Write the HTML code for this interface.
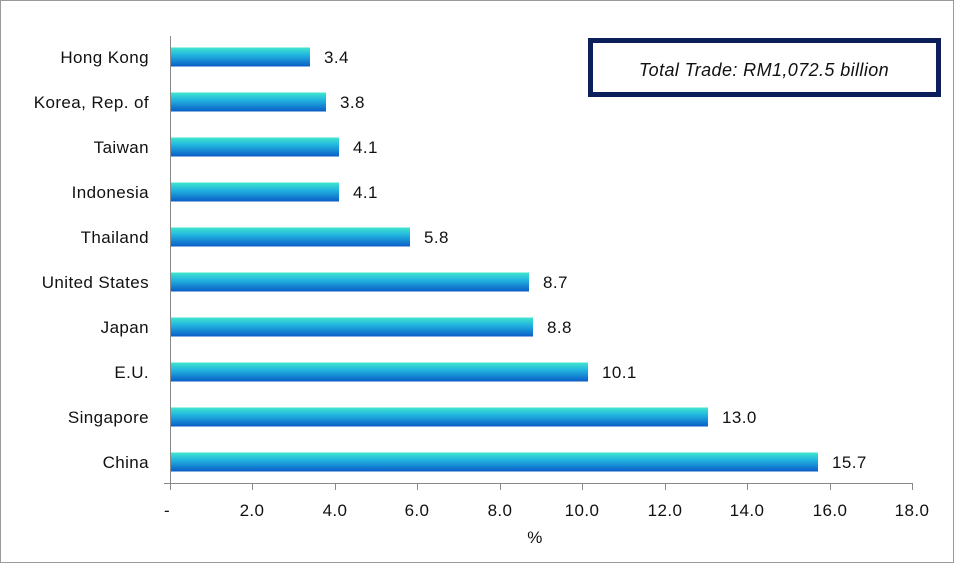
<!DOCTYPE html>
<html><head><style>
html,body{margin:0;padding:0;background:#fff;}
svg{display:block;font-family:"Liberation Sans",Arial,sans-serif;}
</style></head><body>
<svg width="960" height="564" viewBox="0 0 960 564" xmlns="http://www.w3.org/2000/svg">
<defs>
<linearGradient id="g" x1="0" y1="0" x2="0" y2="1">
<stop offset="0" stop-color="#3fe6cc"/>
<stop offset="0.4" stop-color="#22b4e0"/>
<stop offset="1" stop-color="#0a5cc6"/>
</linearGradient>
</defs>
<rect x="0.5" y="0.5" width="953" height="562" fill="#fff" stroke="#9a9a9a"/>
<rect x="590.5" y="40.5" width="348" height="54" fill="#fff" stroke="#0c1f5a" stroke-width="5"/>
<text x="764" y="76" font-size="18" font-style="italic" text-anchor="middle" fill="#111" letter-spacing="0.4">Total Trade: RM1,072.5 billion</text>
<g font-size="17" fill="#111" letter-spacing="0.4">
<g text-anchor="end">
<text x="149" y="63">Hong Kong</text>
<text x="149" y="108">Korea, Rep. of</text>
<text x="149" y="153">Taiwan</text>
<text x="149" y="198">Indonesia</text>
<text x="149" y="243">Thailand</text>
<text x="149" y="288">United States</text>
<text x="149" y="333">Japan</text>
<text x="149" y="378">E.U.</text>
<text x="149" y="423">Singapore</text>
<text x="149" y="468">China</text>
</g>
<rect x="170" y="47.5" width="140" height="19" fill="url(#g)"/>
<rect x="170" y="92.5" width="156" height="19" fill="url(#g)"/>
<rect x="170" y="137.5" width="169" height="19" fill="url(#g)"/>
<rect x="170" y="182.5" width="169" height="19" fill="url(#g)"/>
<rect x="170" y="227.5" width="240" height="19" fill="url(#g)"/>
<rect x="170" y="272.5" width="359" height="19" fill="url(#g)"/>
<rect x="170" y="317.5" width="363" height="19" fill="url(#g)"/>
<rect x="170" y="362.5" width="418" height="19" fill="url(#g)"/>
<rect x="170" y="407.5" width="538" height="19" fill="url(#g)"/>
<rect x="170" y="452.5" width="648" height="19" fill="url(#g)"/>
<text x="324" y="63">3.4</text>
<text x="340" y="108">3.8</text>
<text x="353" y="153">4.1</text>
<text x="353" y="198">4.1</text>
<text x="424" y="243">5.8</text>
<text x="543" y="288">8.7</text>
<text x="547" y="333">8.8</text>
<text x="602" y="378">10.1</text>
<text x="722" y="423">13.0</text>
<text x="832" y="468">15.7</text>
</g>
<line x1="170.5" y1="36" x2="170.5" y2="484" stroke="#888"/>
<line x1="164" y1="483.5" x2="912" y2="483.5" stroke="#888"/>
<g stroke="#888">
<line x1="170.5" y1="483" x2="170.5" y2="490"/><line x1="252.5" y1="483" x2="252.5" y2="490"/>
<line x1="335.5" y1="483" x2="335.5" y2="490"/><line x1="417.5" y1="483" x2="417.5" y2="490"/>
<line x1="500.5" y1="483" x2="500.5" y2="490"/><line x1="582.5" y1="483" x2="582.5" y2="490"/>
<line x1="665.5" y1="483" x2="665.5" y2="490"/><line x1="747.5" y1="483" x2="747.5" y2="490"/>
<line x1="830.5" y1="483" x2="830.5" y2="490"/><line x1="912.5" y1="483" x2="912.5" y2="490"/>
</g>
<g font-size="17" fill="#111" text-anchor="middle" letter-spacing="0.4">
<text x="167" y="516">-</text><text x="252" y="516">2.0</text><text x="335" y="516">4.0</text>
<text x="417" y="516">6.0</text><text x="500" y="516">8.0</text><text x="582" y="516">10.0</text>
<text x="665" y="516">12.0</text><text x="747" y="516">14.0</text><text x="830" y="516">16.0</text>
<text x="912" y="516">18.0</text>
<text x="535" y="543">%</text>
</g>
</svg>
</body></html>
